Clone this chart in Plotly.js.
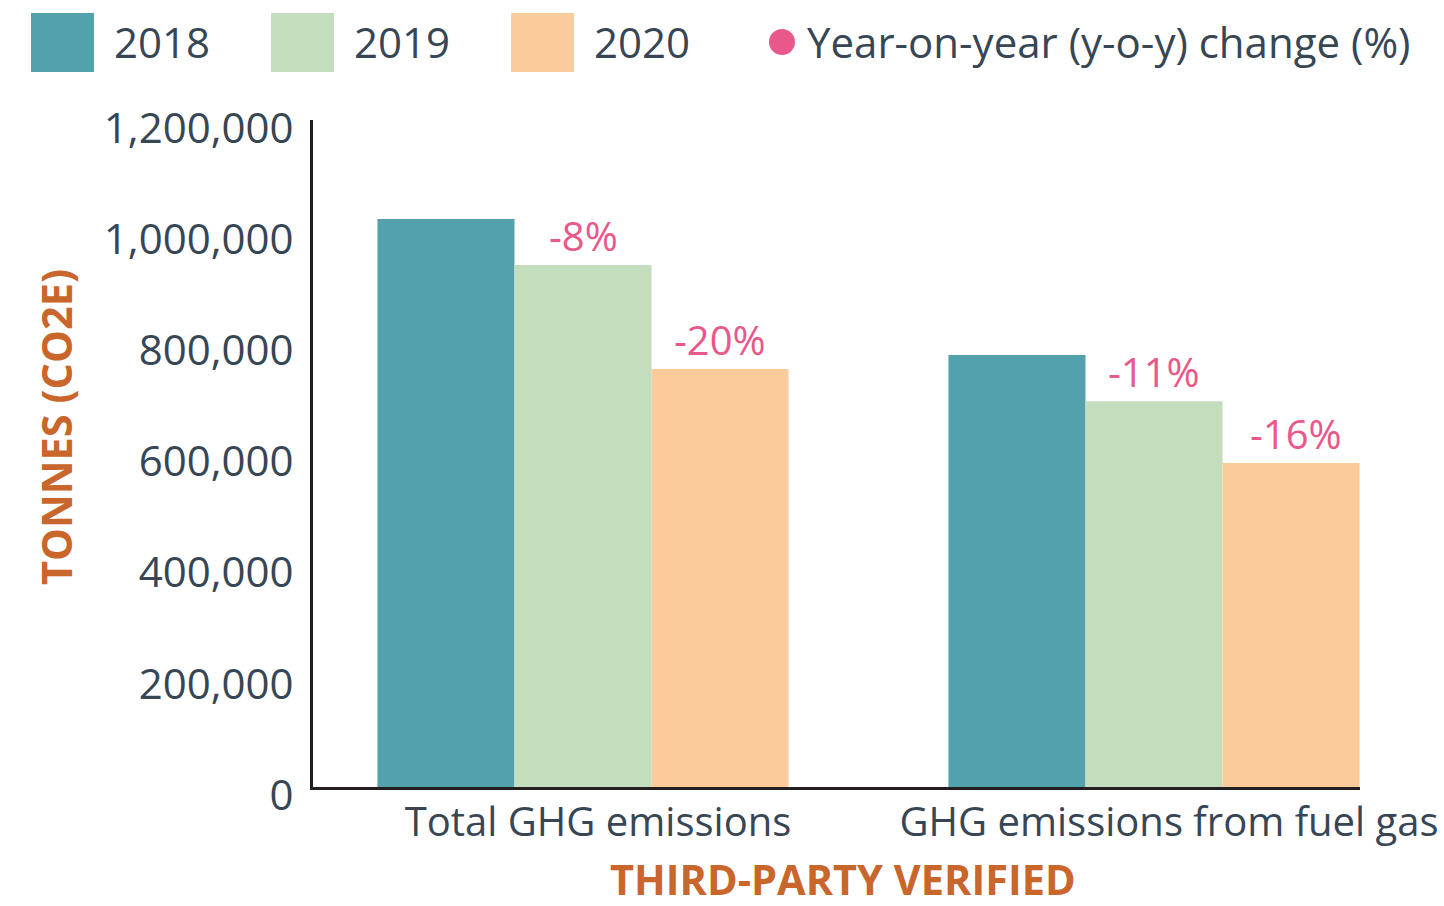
<!DOCTYPE html>
<html>
<head>
<meta charset="utf-8">
<script src="https://cdn.plot.ly/plotly-3.0.1.min.js"></script>
<style>html,body{margin:0;padding:0;background:#fff;}#chart{width:1444px;height:906px;}</style>
</head>
<body>
<div id="chart"></div>
<script>
// ---- data ----
const categories = ["Total GHG emissions", "GHG emissions from fuel gas"];
const years = ["2018", "2019", "2020"];
const values2018 = [1022000, 777000];
const values2019 = [939000, 694000];
const values2020 = [752000, 583000];
const yoy2019 = [-8, -11];
const yoy2020 = [-20, -16];
const yTickVals = [0, 200000, 400000, 600000, 800000, 1000000, 1200000];
const yTickText = ["0", "200,000", "400,000", "600,000", "800,000", "1,000,000", "1,200,000"];
const yoyLabel = "Year-on-year (y-o-y) change (%)";
const yTitle = "TONNES (CO2E)";
const xTitle = "THIRD-PARTY VERIFIED";

// ---- style ----
const colors = ["#54a1ae", "#c4ddbc", "#fbcb9c"];
const pink = "#e9588a";
const textColor = "#374655";
const orange = "#c8662b";
const W = 1444, H = 906;
const L = 313, R = 84, T = 120, B = 119;
const plotW = W - L - R, plotH = H - T - B;
const bargap = 0.28;
const barW = (1 - bargap) / 3;
const font = "Open Sans, Noto Sans, sans-serif";
const titleFont = "Open Sans, Noto Sans, sans-serif";

// pixel -> paper helpers (layout only)
const px = x => (x - L) / plotW;
const py = y => (H - B - y) / plotH;

const series = [values2018, values2019, values2020];
const traces = series.map((v, i) => ({
  type: "bar",
  name: years[i],
  x: [0, 1],
  y: v,
  marker: {color: colors[i], line: {width: 0}},
  showlegend: false,
  hoverinfo: "y"
}));

const annotations = [];
// y-o-y labels above 2019 and 2020 bars
[[yoy2019, values2019, 0], [yoy2020, values2020, 1]].forEach(([yoy, vals, k]) => {
  yoy.forEach((p, j) => {
    annotations.push({
      x: j + k * barW, y: vals[j], xref: "x", yref: "y",
      text: p + "%", showarrow: false, yanchor: "bottom", yshift: 0,
      xshift: (k === 1 && j === 1) ? 5 : 0,
      font: {family: font, size: 40, color: pink}
    });
  });
});

// manual legend
const shapes = [];
const legX = [31, 271, 511];
years.forEach((yr, i) => {
  shapes.push({type: "rect", xref: "paper", yref: "paper",
    x0: px(legX[i]), x1: px(legX[i] + 63), y0: py(72), y1: py(13),
    fillcolor: colors[i], line: {width: 0}});
  annotations.push({xref: "paper", yref: "paper", x: px(legX[i] + 81), y: py(42),
    xanchor: "left", yanchor: "middle", showarrow: false, text: yr,
    font: {family: font, size: 42, color: textColor}});
});
shapes.push({type: "circle", xref: "paper", yref: "paper",
  x0: px(769), x1: px(795), y0: py(55), y1: py(29), fillcolor: pink, line: {width: 0}});
annotations.push({xref: "paper", yref: "paper", x: px(805), y: py(42),
  xanchor: "left", yanchor: "middle", showarrow: false, text: yoyLabel,
  font: {family: font, size: 42, color: textColor}});

// axis titles
annotations.push({xref: "paper", yref: "paper", x: px(56), y: py(427), textangle: -90,
  xanchor: "center", yanchor: "middle", showarrow: false, text: "<b>" + yTitle + "</b>",
  font: {family: titleFont, size: 41.5, color: orange}});
annotations.push({xref: "paper", yref: "paper", x: px(843), y: py(879), borderpad: 0,
  xanchor: "center", yanchor: "middle", showarrow: false, text: "<b>" + xTitle + "</b>",
  font: {family: titleFont, size: 41.5, color: orange}});

const layout = {
  width: W, height: H,
  margin: {l: L, r: R, t: T, b: B, pad: 0},
  paper_bgcolor: "#fff", plot_bgcolor: "#fff",
  barmode: "group", bargap: bargap, bargroupgap: 0,
  showlegend: false,
  xaxis: {
    range: [-(583 - L) / 571, -(583 - L) / 571 + plotW / 571],
    tickvals: [0, 1], ticktext: categories,
    showline: true, linecolor: "#231f20", linewidth: 3,
    showgrid: false, zeroline: false, ticks: "", ticklabelstandoff: -2,
    ticklabelshift: 15,
    tickfont: {family: font, size: 40, color: textColor}
  },
  yaxis: {
    range: [0, 1200000],
    tickvals: yTickVals, ticktext: yTickText,
    showline: true, linecolor: "#231f20", linewidth: 3,
    showgrid: false, zeroline: false, ticks: "", ticklabelstandoff: 8,
    ticklabelshift: 8,
    tickfont: {family: font, size: 42, color: textColor}
  },
  shapes: shapes,
  annotations: annotations
};

Plotly.newPlot("chart", traces, layout, {displayModeBar: false, staticPlot: true});
</script>
</body>
</html>
